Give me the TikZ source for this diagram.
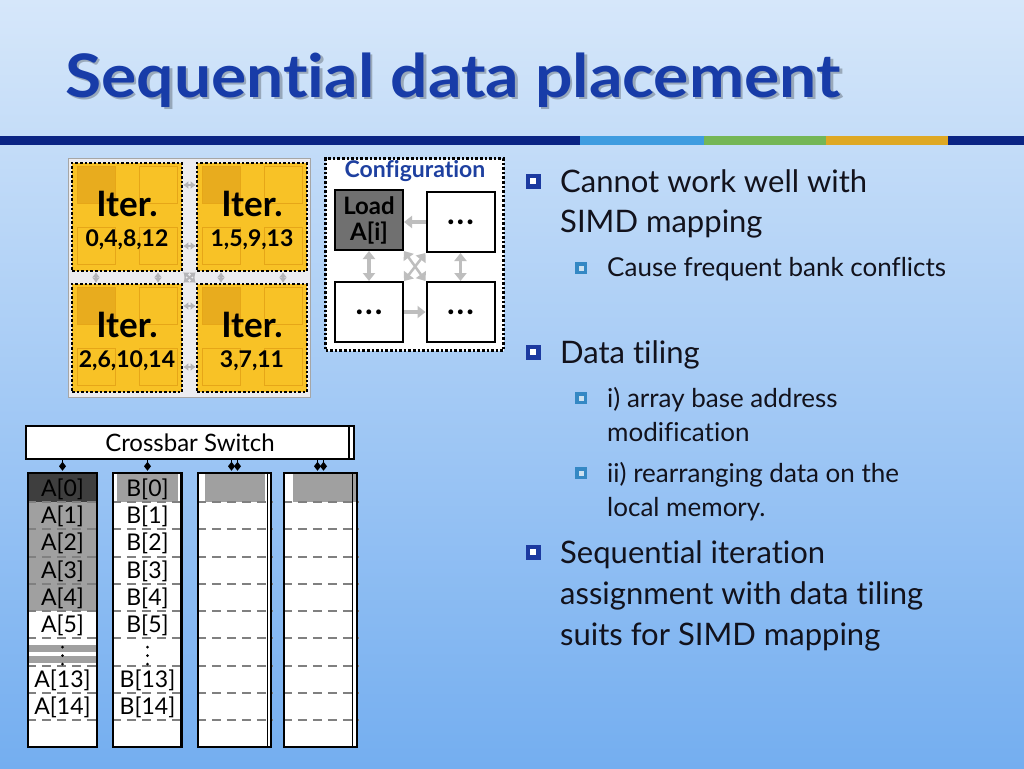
\documentclass[tikz,border=0pt]{standalone}
\usepackage{fontspec}
\setmainfont{Lato}[Ligatures=NoCommon]
\usetikzlibrary{positioning,arrows.meta}
\pgfdeclarelayer{bg}
\pgfsetlayers{bg,main}
\definecolor{bgtop}{RGB}{214,231,250}
\definecolor{bgbot}{RGB}{116,174,240}
\definecolor{titleblue}{RGB}{24,60,168}
\definecolor{barblue}{RGB}{10,36,132}
\definecolor{barsky}{RGB}{62,156,224}
\definecolor{bargreen}{RGB}{116,182,86}
\definecolor{bargold}{RGB}{222,168,36}
\definecolor{tilegold}{RGB}{248,194,38}
\definecolor{pegold}{RGB}{230,166,24}
\definecolor{pedark}{RGB}{232,172,30}
\definecolor{meshgray}{RGB}{180,180,184}
\definecolor{panelgray}{RGB}{236,236,240}
\definecolor{cfgblue}{RGB}{30,64,160}
\definecolor{loadgray}{RGB}{112,112,112}
\definecolor{cfggray}{RGB}{190,190,190}
\definecolor{celldark}{RGB}{62,62,62}
\definecolor{cellgray}{RGB}{160,160,160}
\definecolor{rowgray}{RGB}{128,128,128}
\definecolor{bulblue}{RGB}{28,58,160}
\definecolor{subblue}{RGB}{52,136,196}
\definecolor{inktext}{RGB}{18,18,28}
\tikzset{
  tile/.style={draw=black, dotted, line width=2.6pt, fill=tilegold, minimum width=110pt, minimum height=108pt, inner sep=0pt},
  pe/.style={draw=pegold, line width=1pt, minimum width=38pt, minimum height=37pt, inner sep=0pt},
  itertitle/.style={font=\bfseries\fontsize{35}{35}\selectfont},
  iternums/.style={font=\bfseries\fontsize{23}{23}\selectfont},
  meshlink/.style={draw=meshgray, line width=2pt, {Latex[length=5pt,width=8pt]}-{Latex[length=5pt,width=8pt]}},
  cfgbox/.style={draw=black, line width=2pt, fill=white, minimum width=68pt, minimum height=60pt, inner sep=0pt, font=\bfseries\fontsize{24}{26}\selectfont},
  cfgdots/.style={cfgbox, font=\bfseries\fontsize{32}{32}\selectfont},
  cfglink/.style={draw=cfggray, line width=3.5pt, -{Triangle[length=8pt,width=12pt]}},
  cfgboth/.style={draw=cfggray, line width=3.5pt, {Triangle[length=8pt,width=12pt]}-{Triangle[length=8pt,width=12pt]}},
  bank/.style={draw=black, line width=2.5pt, minimum height=274pt, inner sep=0pt},
  cell/.style={anchor=base, inner sep=0pt, font=\fontsize{23}{23}\selectfont, text=black},
  rowline/.style={draw=rowgray, line width=2pt, dash pattern=on 9pt off 6pt},
  busarrow/.style={draw=black, line width=1.8pt, -{Diamond[length=9pt,width=7pt,sep=1pt]}},
  bulone/.style={draw=bulblue, fill=white, line width=4.5pt, minimum size=10.5pt, inner sep=0pt},
  bultwo/.style={draw=subblue, fill=subblue!25!white, line width=3.5pt, minimum size=8.5pt, inner sep=0pt},
  lvlone/.style={anchor=base west, inner sep=0pt, text=inktext, font=\fontsize{31}{31}\selectfont},
  lvltwo/.style={anchor=base west, inner sep=0pt, text=inktext, font=\fontsize{26}{26}\selectfont}
}
\begin{document}
\begin{tikzpicture}[x=1pt,y=-1pt]
        \begin{pgfonlayer}{bg}
                \shade[top color=bgtop, bottom color=bgbot] (0,0) rectangle (1024,768);
                \fill[barblue] (0,136) rectangle (1024,145);
                \fill[barsky] (580,136) rectangle (704,145);
                \fill[bargreen] (704,136) rectangle (826,145);
                \fill[bargold] (826,136) rectangle (948,145);
        \end{pgfonlayer}
        \useasboundingbox (0,0) rectangle (1024,768);
        % title
        \node (titleshade) [anchor=base west, inner sep=0pt, text=black, opacity=0.25, font=\bfseries\fontsize{60}{60}\selectfont] at (67.5,99.5) {\scalebox{1.1}[1]{Sequential data placement}};
        \node (title) [anchor=base west, inner sep=0pt, text=titleblue, font=\bfseries\fontsize{60}{60}\selectfont] at (65,97) {\scalebox{1.1}[1]{Sequential data placement}};
        % iteration tiles
        \begin{pgfonlayer}{bg}
                \node (panel) [draw=gray!70, fill=panelgray, line width=1.5pt, minimum width=242pt, minimum height=239pt] at (189.5,278) {};
                \foreach \n/\cx/\cy in {1/127/217, 2/252/217, 3/127/338, 4/252/338} {
                        \node (t\n) [tile] at (\cx,\cy) {};
                        \node (pe\n-a) [pe, fill=pedark] at (\cx-31,\cy-32) {};
                        \node (pe\n-b) [pe] at (\cx+31,\cy-32) {};
                        \node (pe\n-c) [pe] at (\cx-31,\cy+29) {};
                        \node (pe\n-d) [pe] at (\cx+31,\cy+29) {};
                }
                \foreach \u/\v in {1/2, 3/4} {
                        \draw[meshlink] ([yshift=32pt]t\u.east) -- ([yshift=32pt]t\v.west);
                        \draw[meshlink] ([yshift=-29pt]t\u.east) -- ([yshift=-29pt]t\v.west);
                }
                \foreach \u/\v in {1/3, 2/4} {
                        \draw[meshlink] ([xshift=-31pt]t\u.south) -- ([xshift=-31pt]t\v.north);
                        \draw[meshlink] ([xshift=31pt]t\u.south) -- ([xshift=31pt]t\v.north);
                }
                \draw[meshlink] (t1.south east) -- (t4.north west);
                \draw[meshlink] (t2.south west) -- (t3.north east);
        \end{pgfonlayer}
        \node (it1) [itertitle] at (127,204) {Iter.};
        \node (in1) [iternums] at (127,240) {0,4,8,12};
        \node (it2) [itertitle] at (252,204) {Iter.};
        \node (in2) [iternums] at (252,240) {1,5,9,13};
        \node (it3) [itertitle] at (127,325) {Iter.};
        \node (in3) [iternums] at (127,361) {2,6,10,14};
        \node (it4) [itertitle] at (252,325) {Iter.};
        \node (in4) [iternums] at (252,361) {3,7,11};
        % configuration
        \node (cfg) [draw=black, dotted, line width=2.6pt, fill=white, minimum width=178pt, minimum height=192pt] at (414.5,254.5) {};
        \node (cfgtitle) [text=cfgblue, font=\bfseries\fontsize{23}{23}\selectfont] at (415,171) {Configuration};
        \node (load) [cfgbox, fill=loadgray, align=center] at (369,220) {Load\\A[i]};
        \node (cfgr) [cfgdots] at (460.5,222) {.\hspace{2pt}.\hspace{2pt}.};
        \node (cfgbl) [cfgdots] at (369,312) {.\hspace{2pt}.\hspace{2pt}.};
        \node (cfgbr) [cfgdots] at (460.5,312) {.\hspace{2pt}.\hspace{2pt}.};
        \draw[cfglink] (cfgr) -- (load.east |- cfgr);
        \draw[cfglink] (cfgbl) -- (cfgbr);
        \draw[cfgboth] (load.south) -- (cfgbl);
        \draw[cfgboth] (cfgr) -- (cfgbr);
        \draw[cfgboth, line width=2.5pt] (load.south east) -- (cfgbr.north west);
        \draw[cfgboth, line width=2.5pt] (cfgr.south west) -- (cfgbl.north east);
        % crossbar and banks
        \node (xbar) [draw=black, line width=2pt, fill=white, minimum width=328pt, minimum height=33pt, font=\fontsize{24}{24}\selectfont] at (190,442.5) {Crossbar Switch};
        \draw[line width=1.5pt] ([xshift=-6pt]xbar.north east) -- ([xshift=-6pt]xbar.south east);
        \node (bankA) [bank, minimum width=69pt] at (62.5,610) {};
        \node (bankB) [bank, minimum width=69pt] at (147.5,610) {};
        \node (bankC) [bank, minimum width=73pt] at (234.5,610) {};
        \node (bankD) [bank, minimum width=73pt] at (320.5,610) {};
        \begin{pgfonlayer}{bg}
                \foreach \b in {A,B,C,D}
                        \fill[white] (bank\b.north west) rectangle (bank\b.south east);
                \fill[celldark] (bankA.north west) rectangle (bankA.east |- 0,502);
                \fill[cellgray] (bankA.west |- 0,502) rectangle (bankA.east |- 0,611);
                \fill[cellgray] (bankA.west |- 0,645) rectangle (bankA.east |- 0,652);
                \fill[cellgray] (bankA.west |- 0,656) rectangle (bankA.east |- 0,663);
                \fill[cellgray] (117,474) rectangle (178,502);
                \fill[cellgray] (205,474) rectangle (265,502);
                \fill[cellgray] (293,474) rectangle (357,502);
                \foreach \yy [count=\k] in {502,529.25,556.5,583.75,611,638.25,665.5,692.75,720} {
                        \coordinate (row\k) at (0,\yy);
                        \foreach \b in {A,B,C,D}
                                \draw[rowline] (bank\b.west |- row\k) -- (bank\b.east |- row\k);
                }
        \end{pgfonlayer}
        \draw[line width=1.5pt] ([xshift=-3pt]bankB.north east) -- ([xshift=-3pt]bankB.south east);
        \draw[line width=1.5pt] ([xshift=-5pt]bankC.north east) -- ([xshift=-5pt]bankC.south east);
        \draw[line width=1.5pt] ([xshift=-6pt]bankD.north east) -- ([xshift=-6pt]bankD.south east);
        \coordinate (busA) at (bankA.north);
        \coordinate (busB) at (bankB.north);
        \coordinate (busC1) at ([xshift=-3pt]bankC.north);
        \coordinate (busC2) at ([xshift=3pt]bankC.north);
        \coordinate (busD1) at ([xshift=-3pt]bankD.north);
        \coordinate (busD2) at ([xshift=3pt]bankD.north);
        \foreach \c in {busA,busB,busC1,busC2,busD1,busD2}
                \draw[busarrow] (xbar.south -| \c) -- (\c);
        \foreach \t/\y [count=\i] in {0/488, 1/515.6, 2/542.9, 3/570.1, 4/597.4, 5/624.6, 13/679.1, 14/706.4} {
                \node (cellA\i) [cell] at (62.5,\y+8) {A[\t]};
                \node (cellB\i) [cell] at (147.5,\y+8) {B[\t]};
        }
        % vertical dots
        \foreach \x in {62.5,147.5}
                \foreach \y in {647,655.5,664}
                        \fill[black] (\x,\y) circle (1.5pt);
        % bullet text
        \node (bul1) [bulone] at (533,181) {};
        \node (cw1) [lvlone] at (560,192) {Cannot work well with};
        \node (cw2) [lvlone] at (560,232) {SIMD mapping};
        \node (bul2) [bultwo] at (581,268) {};
        \node (cf1) [lvltwo] at (607,276) {Cause frequent bank conflicts};
        \node (bul3) [bulone] at (533,352) {};
        \node (dt1) [lvlone] at (560,363) {Data tiling};
        \node (bul4) [bultwo] at (581,398) {};
        \node (ab1) [lvltwo] at (607,407) {i) array base address};
        \node (ab2) [lvltwo] at (607,441) {modification};
        \node (bul5) [bultwo] at (581,473) {};
        \node (rd1) [lvltwo] at (607,482) {ii) rearranging data on the};
        \node (rd2) [lvltwo] at (607,516) {local memory.};
        \node (bul6) [bulone] at (533,552) {};
        \node (si1) [lvlone] at (560,563) {Sequential iteration};
        \node (si2) [lvlone] at (560,604) {assignment with data tiling};
        \node (si3) [lvlone] at (560,645) {suits for SIMD mapping};
\end{tikzpicture}
\end{document}
